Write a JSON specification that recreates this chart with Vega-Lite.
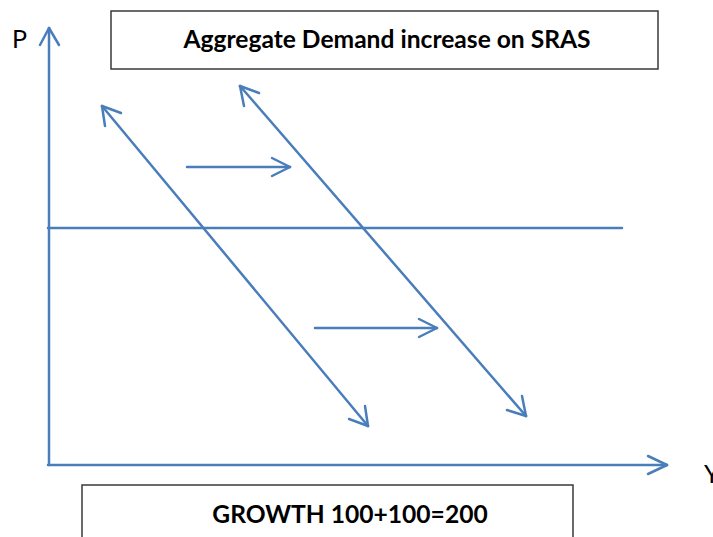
{
  "$schema": "https://vega.github.io/schema/vega-lite/v6.json",
  "width": 713,
  "height": 537,
  "padding": 0,
  "autosize": {"type": "none"},
  "background": "white",
  "config": {"view": {"stroke": null}},
  "datasets": {
    "segs": [
      {"part": "P axis", "x": 49, "y": 465, "x2": 49, "y2": 28},
      {"part": "P axis head", "x": 49, "y": 28, "x2": 40, "y2": 45},
      {"part": "P axis head", "x": 49, "y": 28, "x2": 59, "y2": 45},
      {"part": "Y axis", "x": 48, "y": 465, "x2": 667, "y2": 465},
      {"part": "Y axis head", "x": 667, "y": 465, "x2": 648, "y2": 456},
      {"part": "Y axis head", "x": 667, "y": 465, "x2": 648, "y2": 474},
      {"part": "SRAS", "x": 48, "y": 228, "x2": 622, "y2": 228},
      {"part": "AD1", "x": 102, "y": 106, "x2": 368, "y2": 426},
      {"part": "AD1 head", "x": 102, "y": 106, "x2": 105, "y2": 126},
      {"part": "AD1 head", "x": 102, "y": 106, "x2": 121, "y2": 113},
      {"part": "AD1 head", "x": 368, "y": 426, "x2": 365, "y2": 406},
      {"part": "AD1 head", "x": 368, "y": 426, "x2": 349, "y2": 419},
      {"part": "AD2", "x": 240, "y": 86, "x2": 526, "y2": 416},
      {"part": "AD2 head", "x": 240, "y": 86, "x2": 244, "y2": 106},
      {"part": "AD2 head", "x": 240, "y": 86, "x2": 259, "y2": 93},
      {"part": "AD2 head", "x": 526, "y": 416, "x2": 522, "y2": 396},
      {"part": "AD2 head", "x": 526, "y": 416, "x2": 507, "y2": 410},
      {"part": "shift1", "x": 187, "y": 167, "x2": 290, "y2": 167},
      {"part": "shift1 head", "x": 290, "y": 167, "x2": 272, "y2": 158},
      {"part": "shift1 head", "x": 290, "y": 167, "x2": 272, "y2": 176},
      {"part": "shift2", "x": 315, "y": 328, "x2": 437, "y2": 328},
      {"part": "shift2 head", "x": 437, "y": 328, "x2": 419, "y2": 319},
      {"part": "shift2 head", "x": 437, "y": 328, "x2": 419, "y2": 337}
    ],
    "boxes": [
      {"box": "title", "x": 111, "y": 11, "x2": 658, "y2": 69},
      {"box": "growth", "x": 82, "y": 485, "x2": 573, "y2": 570}
    ],
    "boxText": [
      {"label": "Aggregate Demand increase on SRAS", "x": 387, "y": 48},
      {"label": "GROWTH 100+100=200", "x": 350, "y": 523}
    ],
    "axisText": [
      {"label": "P", "x": 12, "y": 48},
      {"label": "Y", "x": 704, "y": 483}
    ]
  },
  "layer": [
    {
      "data": {"name": "boxes"},
      "mark": {"type": "rect", "fill": "white", "stroke": "#3a3a3a", "strokeWidth": 1.5},
      "encoding": {
        "x": {"field": "x", "type": "quantitative", "scale": {"domain": [0, 713], "range": [0, 713]}, "axis": null},
        "y": {"field": "y", "type": "quantitative", "scale": {"domain": [0, 537], "reverse": true}, "axis": null},
        "x2": {"field": "x2"},
        "y2": {"field": "y2"}
      }
    },
    {
      "data": {"name": "segs"},
      "mark": {"type": "rule", "color": "#4a7ebb", "strokeWidth": 2.5, "strokeCap": "round"},
      "encoding": {
        "x": {"field": "x", "type": "quantitative", "scale": {"domain": [0, 713], "range": [0, 713]}, "axis": null},
        "y": {"field": "y", "type": "quantitative", "scale": {"domain": [0, 537], "reverse": true}, "axis": null},
        "x2": {"field": "x2"},
        "y2": {"field": "y2"}
      }
    },
    {
      "data": {"name": "boxText"},
      "mark": {"type": "text", "font": "Lato", "fontWeight": "bold", "fontSize": 24.6, "align": "center", "baseline": "alphabetic", "color": "black"},
      "encoding": {
        "x": {"field": "x", "type": "quantitative", "scale": {"domain": [0, 713], "range": [0, 713]}, "axis": null},
        "y": {"field": "y", "type": "quantitative", "scale": {"domain": [0, 537], "reverse": true}, "axis": null},
        "text": {"field": "label"}
      }
    },
    {
      "data": {"name": "axisText"},
      "mark": {"type": "text", "font": "Lato", "fontSize": 25, "align": "left", "baseline": "alphabetic", "color": "black"},
      "encoding": {
        "x": {"field": "x", "type": "quantitative", "scale": {"domain": [0, 713], "range": [0, 713]}, "axis": null},
        "y": {"field": "y", "type": "quantitative", "scale": {"domain": [0, 537], "reverse": true}, "axis": null},
        "text": {"field": "label"}
      }
    }
  ]
}
